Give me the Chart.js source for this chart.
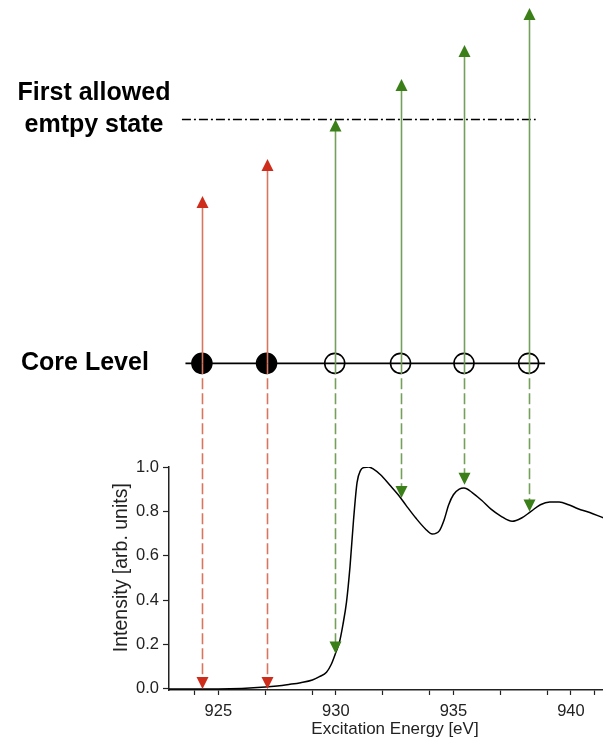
<!DOCTYPE html>
<html>
<head>
<meta charset="utf-8">
<title>Core-level excitation and absorption edge</title>
<style>
  html, body { margin: 0; padding: 0; background: #ffffff; overflow: hidden; }
  #wrap { width: 603px; height: 740px; position: relative; overflow: hidden; }
  canvas { display: block; }
</style>
<script src="https://cdn.jsdelivr.net/npm/chart.js@4/dist/chart.umd.min.js"></script>
</head>
<body>
<div id="wrap"><canvas id="chart" width="621" height="740"></canvas></div>
<script>
// Absorption spectrum (excitation energy in eV, normalised intensity)
const energy = [922.9, 924.0, 925.0, 926.0, 927.0, 927.5, 928.0, 928.5, 929.0, 929.3,
  929.6, 929.8, 930.0, 930.15, 930.3, 930.45, 930.6, 930.75, 930.9, 931.05,
  931.2, 931.4, 931.6, 931.9, 932.3, 932.65, 933.0, 933.4, 933.8, 934.1,
  934.4, 934.6, 934.8, 935.0, 935.25, 935.45, 935.8, 936.2, 936.6, 937.0,
  937.5, 937.9, 938.3, 938.7, 939.1, 939.5, 939.9, 940.3, 940.8, 941.4, 942.1];
const intensity = [0.0, 0.0, 0.0, 0.002, 0.008, 0.013, 0.02, 0.028, 0.04, 0.055,
  0.075, 0.11, 0.165, 0.21, 0.29, 0.39, 0.55, 0.76, 0.93, 0.985,
  0.998, 1.0, 0.99, 0.965, 0.918, 0.875, 0.825, 0.77, 0.722, 0.698,
  0.712, 0.76, 0.83, 0.875, 0.90, 0.905, 0.885, 0.85, 0.81, 0.78,
  0.755, 0.77, 0.80, 0.83, 0.842, 0.842, 0.83, 0.812, 0.795, 0.77, 0.745];

// Transitions from the core level, one per photon energy
const transEnergy = [924.3, 927.05, 929.95, 932.75, 935.45, 938.2];
const occupiedFinal = [true, true, false, false, false, false];  // final state below the first empty state
const finalLevel = [0.686, 0.838, 1.0, 1.166, 1.305, 1.457];      // diagram units, core level = 0
const dropTo = [0.0, 0.0, 0.16, 0.86, 0.92, 0.80];                // intensity reached by each downward arrow

// Energy-level diagram
const coreLevel = 0;
const emptyLevel = 1;
const coreSpan = [923.6, 938.9];
const emptySpan = [923.45, 938.5];

// Axis ticks
const xMajorTicks = [925, 930, 935, 940];
const xMinorTicks = [924, 927, 929, 932, 934, 937, 939, 941];
const yTicks = [0.0, 0.2, 0.4, 0.6, 0.8, 1.0];

const FONT = '"Liberation Sans", Arial, Helvetica, sans-serif';
const AXIS = '#222222';
const RED = { line: '#d8755f', head: '#cf2d1b' };
const GREEN = { line: '#74a05a', head: '#3b7f19' };
const HEAD = 12;

function arrowHead(ctx, x, tipY, dir) {
  // dir = -1 points up, +1 points down
  ctx.beginPath();
  ctx.moveTo(x, tipY);
  ctx.lineTo(x - HEAD / 2, tipY - dir * HEAD);
  ctx.lineTo(x + HEAD / 2, tipY - dir * HEAD);
  ctx.closePath();
  ctx.fill();
}

const diagramPlugin = {
  id: 'diagram',
  afterDatasetsDraw(chart) {
    const { ctx } = chart;
    const { x, y, yTop } = chart.scales;
    ctx.save();

    // level labels
    ctx.fillStyle = '#000';
    ctx.font = 'bold 25px ' + FONT;
    ctx.textAlign = 'left';
    ctx.textBaseline = 'middle';
    ctx.fillText('Core Level', 21, yTop.getPixelForValue(coreLevel));
    const ey = yTop.getPixelForValue(emptyLevel);
    ctx.textAlign = 'center';
    ctx.textBaseline = 'alphabetic';
    ctx.fillText('First allowed', 94, ey - 19);
    ctx.fillText('emtpy state', 94, ey + 13);

    // excitation arrows: solid up to the final state, dashed down to the spectrum
    transEnergy.forEach((e, i) => {
      const px = Math.round(x.getPixelForValue(e)) + 0.5;
      const pCore = yTop.getPixelForValue(coreLevel);
      const pTop = yTop.getPixelForValue(finalLevel[i]);
      const pBot = y.getPixelForValue(dropTo[i]);
      const col = occupiedFinal[i] ? RED : GREEN;

      ctx.strokeStyle = col.line;
      ctx.lineWidth = 1.6;
      ctx.setLineDash([]);
      ctx.beginPath();
      ctx.moveTo(px, pCore);
      ctx.lineTo(px, pTop + HEAD - 1);
      ctx.stroke();

      ctx.setLineDash([11, 4]);
      ctx.beginPath();
      ctx.moveTo(px, pCore);
      ctx.lineTo(px, pBot - HEAD + 1);
      ctx.stroke();
      ctx.setLineDash([]);

      ctx.fillStyle = col.head;
      arrowHead(ctx, px, pTop, -1);
      arrowHead(ctx, px, pBot, 1);
    });
    ctx.restore();
  }
};

const ctx = document.getElementById('chart').getContext('2d');
new Chart(ctx, {
  type: 'line',
  data: {
    datasets: [
      {
        label: 'states',
        type: 'scatter',
        yAxisID: 'yTop',
        data: transEnergy.map(e => ({ x: e, y: coreLevel })),
        pointStyle: 'circle',
        pointRadius: 10,
        pointHoverRadius: 10,
        pointBorderWidth: 1.6,
        pointBorderColor: '#000',
        pointBackgroundColor: occupiedFinal.map(o => o ? '#000' : 'rgba(0,0,0,0)'),
        showLine: false
      },
      {
        label: 'core level',
        yAxisID: 'yTop',
        data: coreSpan.map(e => ({ x: e, y: coreLevel })),
        borderColor: '#000',
        borderWidth: 1.6,
        pointRadius: 0
      },
      {
        label: 'first empty state',
        yAxisID: 'yTop',
        data: emptySpan.map(e => ({ x: e, y: emptyLevel })),
        borderColor: '#000',
        borderWidth: 1.5,
        borderDash: [9, 3, 2, 3],
        pointRadius: 0
      },
      {
        label: 'spectrum',
        yAxisID: 'y',
        data: energy.map((e, i) => ({ x: e, y: intensity[i] })),
        borderColor: '#000',
        borderWidth: 1.5,
        pointRadius: 0,
        cubicInterpolationMode: 'monotone'
      }
    ]
  },
  options: {
    responsive: false,
    animation: false,
    devicePixelRatio: 1,
    layout: { padding: 0, autoPadding: false },
    plugins: { legend: { display: false }, tooltip: { enabled: false }, title: { display: false } },
    scales: {
      x: {
        type: 'linear',
        position: 'bottom',
        min: 922.9,
        max: 942.13,
        afterBuildTicks: s => { s.ticks = xMajorTicks.concat(xMinorTicks).sort((a, b) => a - b).map(v => ({ value: v })); },
        afterFit: s => { s.height = 50; s.paddingLeft = 0; s.paddingRight = 0; },
        ticks: {
          autoSkip: false,
          maxRotation: 0,
          padding: 7,
          color: AXIS,
          font: { family: FONT, size: 16.5 },
          callback: v => xMajorTicks.includes(v) ? String(v) : ''
        },
        grid: { drawOnChartArea: false, drawTicks: true, tickLength: 5, color: AXIS, tickWidth: 1.2 },
        border: { display: true, color: AXIS, width: 1.5 },
        title: {
          display: true,
          text: 'Excitation Energy [eV]',
          color: AXIS,
          font: { family: FONT, size: 17 },
          padding: { top: 0, bottom: 0 }
        }
      },
      y: {
        type: 'linear',
        position: 'left',
        stack: 'levels',
        stackWeight: 223,
        weight: 0,
        min: -0.005,
        max: 1.0,
        afterBuildTicks: s => { s.ticks = yTicks.map(v => ({ value: v })); },
        afterFit: s => { s.width = 169; s.paddingTop = 0; s.paddingBottom = 0; },
        ticks: {
          padding: 4,
          color: AXIS,
          font: { family: FONT, size: 16.5 },
          callback: v => Number(v).toFixed(1)
        },
        grid: { drawOnChartArea: false, drawTicks: true, tickLength: 6, color: AXIS, tickWidth: 1.2 },
        border: { display: true, color: AXIS, width: 1.5 },
        title: {
          display: true,
          text: '    Intensity [arb. units]',
          color: AXIS,
          font: { family: FONT, size: 19.5 },
          padding: { top: 110, bottom: 0 }
        }
      },
      yTop: {
        type: 'linear',
        position: 'left',
        stack: 'levels',
        stackWeight: 467,
        weight: 1,
        display: false,
        min: -0.425,
        max: 1.49
      }
    }
  },
  plugins: [diagramPlugin]
});
</script>
</body>
</html>
